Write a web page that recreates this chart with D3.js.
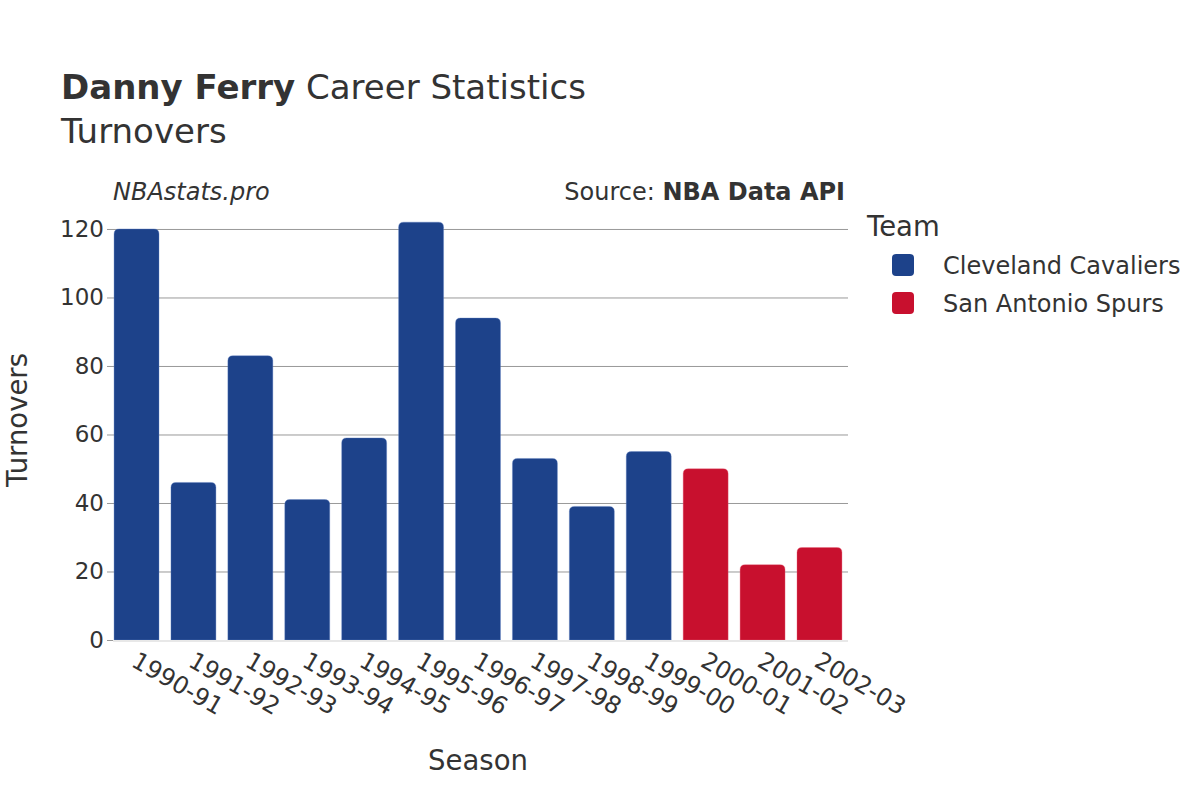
<!DOCTYPE html>
<html><head><meta charset="utf-8">
<script src="https://cdn.jsdelivr.net/npm/d3@7"></script>
<style>body{margin:0;background:#fff}svg{font-family:"DejaVu Sans",sans-serif}</style>
</head><body><svg id="c" width="1200" height="800"></svg>
<script>
const seasons = ["1990-91","1991-92","1992-93","1993-94","1994-95","1995-96","1996-97","1997-98","1998-99","1999-00","2000-01","2001-02","2002-03"];
const turnovers = [120,46,83,41,59,122,94,53,39,55,50,22,27];
const teams = ["CLE","CLE","CLE","CLE","CLE","CLE","CLE","CLE","CLE","CLE","SAS","SAS","SAS"];
const teamNames = ["Cleveland Cavaliers","San Antonio Spurs"];
const teamKeys = ["CLE","SAS"];
const teamColors = ["#1d428a","#c8102e"];
const yTicks = [0,20,40,60,80,100,120];

const svg = d3.select("#c");
const L=113, R=848, T=205, B=640;
const x = d3.scaleBand().domain(seasons).range([111.2,844.8]).paddingInner(0.21).paddingOuter(0.05);
const y = d3.scaleLinear().domain([0,127]).range([B,T]);
const color = d3.scaleOrdinal().domain(teamKeys).range(teamColors);

// grid
const gy = svg.append("g").attr("transform",`translate(${L},0)`)
  .call(d3.axisLeft(y).tickValues(yTicks).tickSize(-(R-L)).tickFormat(""));
gy.select(".domain").remove();
gy.selectAll("line").attr("stroke","#999").attr("stroke-width",1);
gy.selectAll(".tick").filter(d=>d===0).remove();

// bars
const data = seasons.map((s,i)=>({s,v:turnovers[i],t:teams[i]}));
svg.append("g").selectAll("path").data(data).enter().append("path")
  .attr("d",d=>{
    const x0=x(d.s), w=x.bandwidth(), y0=y(d.v), r=5;
    return `M${x0},${B}V${y0+r}Q${x0},${y0} ${x0+r},${y0}H${x0+w-r}Q${x0+w},${y0} ${x0+w},${y0+r}V${B}Z`;
  })
  .attr("fill",d=>color(d.t))
  .attr("stroke",d=>d.t==="CLE"?"#5f82c4":"#e8637a").attr("stroke-width",0.6).attr("stroke-opacity",0.6);

// zero line
svg.append("line").attr("x1",L).attr("x2",R).attr("y1",y(0)+1).attr("y2",y(0)+1).attr("stroke","#e8e8e8").attr("stroke-width",2);

// y axis labels
const ya = svg.append("g").attr("transform",`translate(${L},0)`)
  .call(d3.axisLeft(y).tickValues(yTicks).tickSize(6).tickPadding(3));
ya.select(".domain").remove();
ya.selectAll("line").attr("stroke","#999");
ya.selectAll("text").attr("font-size",23).attr("fill","#333").attr("font-family","DejaVu Sans");

// x axis labels
const xa = svg.append("g").attr("transform",`translate(0,${B})`).call(d3.axisBottom(x).tickSize(0));
xa.select(".domain").remove();
xa.selectAll("text").attr("font-size",24).attr("fill","#333").attr("font-family","DejaVu Sans")
  .attr("text-anchor","start").attr("dy",0)
  .attr("transform","translate(-5,23) rotate(30)");

// titles
const t = svg.append("text").attr("x",61).attr("y",99).attr("font-size",34).attr("fill","#333");
t.append("tspan").attr("font-weight","bold").text("Danny Ferry");
t.append("tspan").text(" Career Statistics");
svg.append("text").attr("x",61).attr("y",143).attr("font-size",34).attr("fill","#333").text("Turnovers");
svg.append("text").attr("x",113).attr("y",200).attr("font-size",24).attr("font-style","italic").attr("fill","#333").text("NBAstats.pro");
const s = svg.append("text").attr("x",845).attr("y",200).attr("font-size",24).attr("text-anchor","end").attr("fill","#333");
s.append("tspan").text("Source: ");
s.append("tspan").attr("font-weight","bold").text("NBA Data API");

svg.append("text").attr("x",478).attr("y",770).attr("font-size",27.5).attr("text-anchor","middle").attr("fill","#333").text("Season");
svg.append("text").attr("transform","translate(27,420) rotate(-90)").attr("font-size",27.5).attr("text-anchor","middle").attr("fill","#333").text("Turnovers");

// legend
svg.append("text").attr("x",867).attr("y",236).attr("font-size",27.5).attr("fill","#333").text("Team");
const lg = svg.append("g").selectAll("g").data(teamKeys).enter().append("g")
  .attr("transform",(d,i)=>`translate(892,${254+i*38})`);
lg.append("rect").attr("width",22).attr("height",22).attr("rx",4).attr("fill",d=>color(d));
lg.append("text").attr("x",51).attr("y",20).attr("font-size",24).attr("fill","#333").text((d,i)=>teamNames[i]);
</script></body></html>
